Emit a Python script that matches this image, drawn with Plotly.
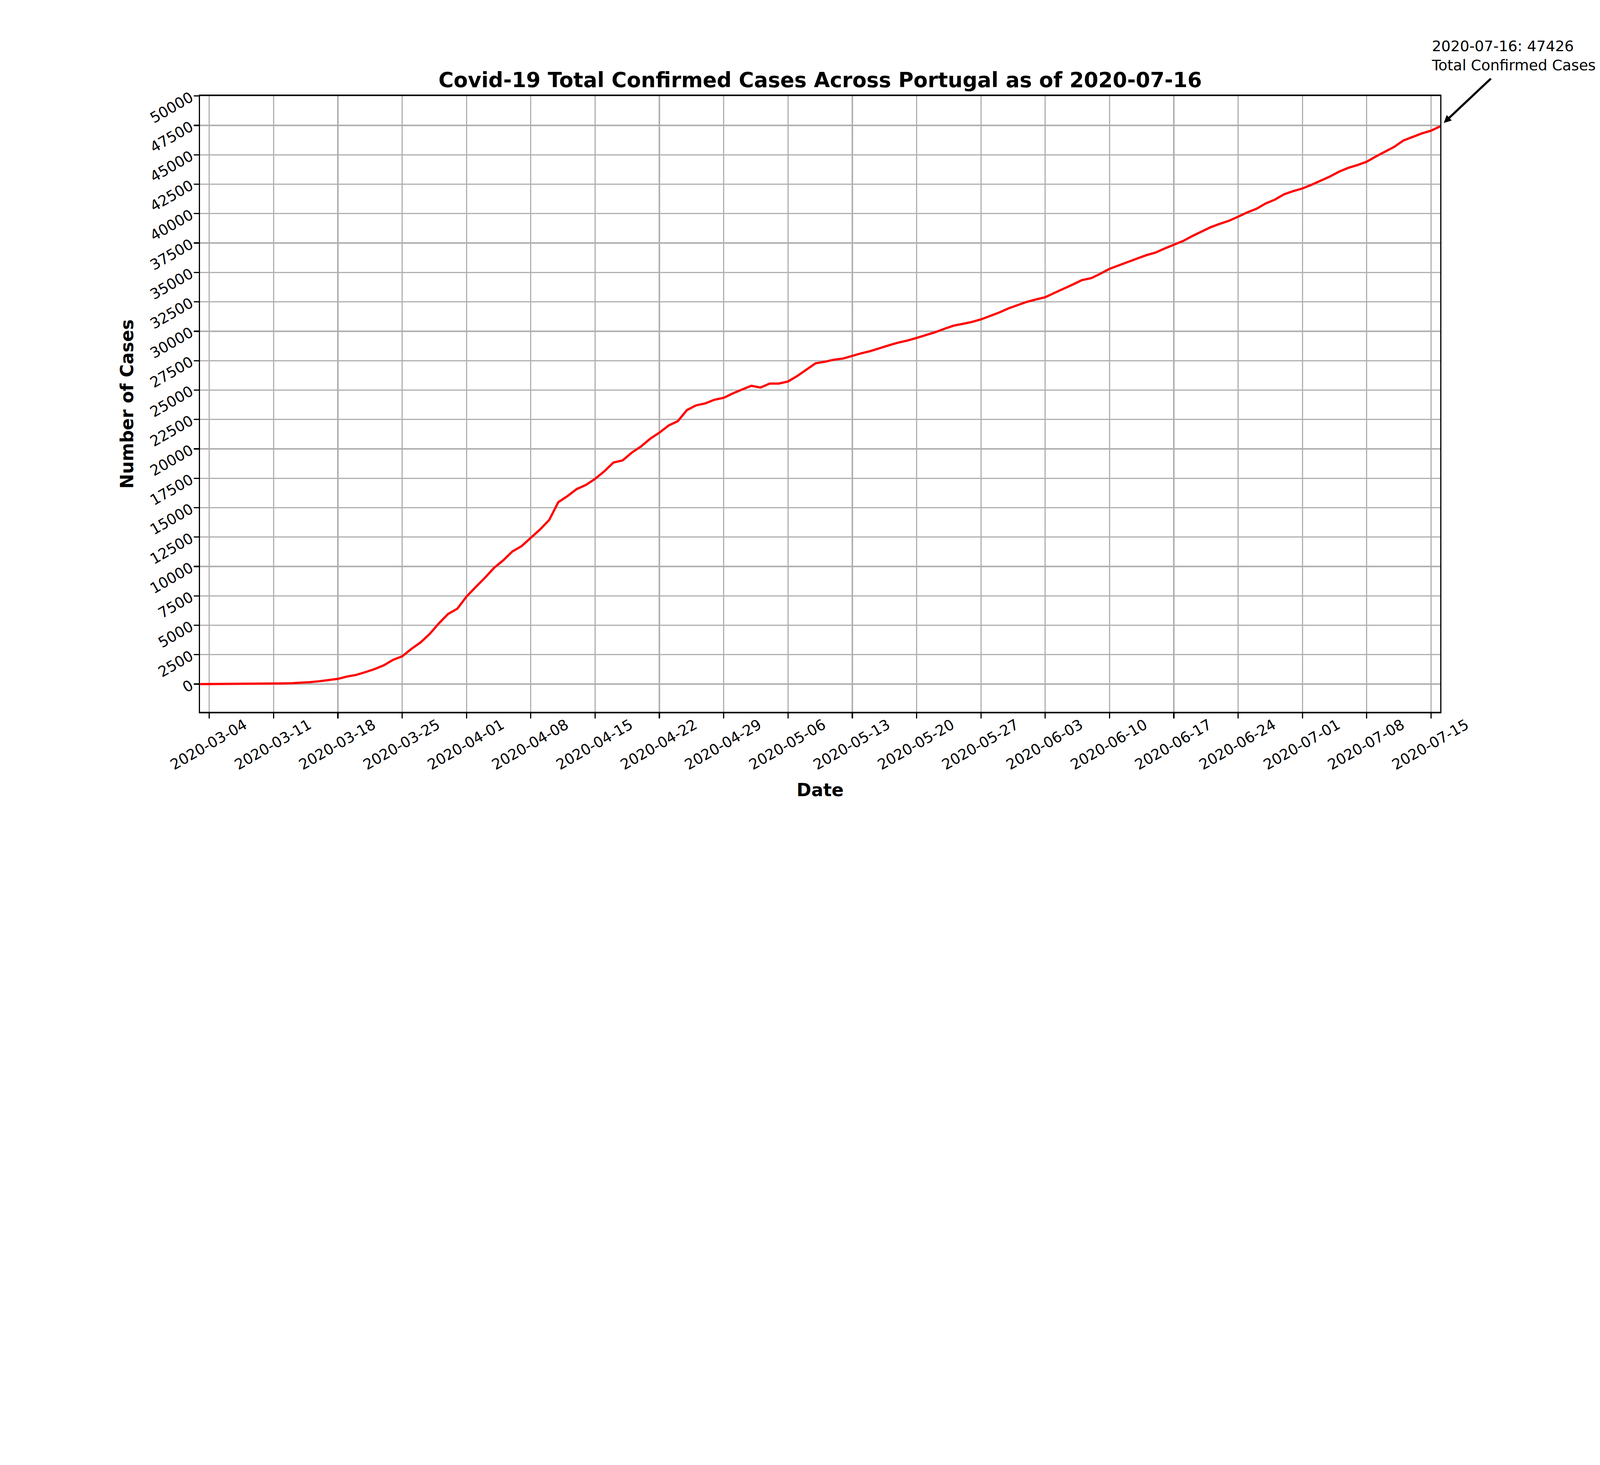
import plotly.graph_objects as go
import pandas as pd

# daily totals, Portugal
start_date = "2020-03-03"
end_date = "2020-07-16"
total_cases = [
    2, 4, 6, 9, 13, 21, 30, 39, 41, 59, 78, 112, 169, 245, 331, 448, 642, 785,
    1020, 1280, 1600, 2060, 2362, 2995, 3544, 4268, 5170, 5962, 6408, 7443,
    8251, 9034, 9886, 10524, 11278, 11730, 12442, 13141, 13956, 15472, 15987,
    16585, 16934, 17448, 18091, 18841, 19022, 19685, 20206, 20863, 21379,
    21982, 22353, 23300, 23700, 23870, 24180, 24340, 24720, 25020, 25365,
    25210, 25550, 25550, 25730, 26190, 26715, 27275, 27406, 27581, 27679,
    27913, 28132, 28319, 28583, 28810, 29036, 29209, 29432, 29660, 29912,
    30200, 30471, 30623, 30788, 31007, 31292, 31596, 31946, 32203, 32500,
    32700, 32895, 33261, 33592, 33969, 34351, 34510, 34885, 35306, 35600,
    35910, 36180, 36463, 36690, 37036, 37336, 37672, 38089, 38464, 38841,
    39133, 39392, 39737, 40104, 40415, 40866, 41189, 41646, 41912, 42141,
    42454, 42782, 43156, 43569, 43897, 44129, 44416, 44859, 45277, 45679,
    46221, 46512, 46818, 47051, 47426,
]
dates = pd.date_range(start_date, end_date, freq="D")
y_ticks = list(range(0, 50001, 2500))

W, H = 7500, 3750
FONT = "DejaVu Sans"
GRID = "#b0b0b0"
ML, MR, MT, MB = 938, 749, 450, 413
PLOT_H = H - MT - MB

fig = go.Figure()
fig.add_trace(go.Scatter(
    x=dates, y=total_cases, mode="lines",
    line=dict(color="red", width=10.4),
    showlegend=False,
))

last_label = dates[-1].strftime("%Y-%m-%d")

axis_common = dict(
    showline=True, linecolor="black", linewidth=5.6, mirror=True,
    ticks="outside", ticklen=24, tickwidth=5.6, tickcolor="black",
    showgrid=True, gridcolor=GRID, gridwidth=5.6,
    zeroline=False, automargin=False,
    tickfont=dict(family=FONT, size=69, color="black"),
    tickangle=-30,
)

fig.update_layout(
    width=W, height=H,
    paper_bgcolor="white", plot_bgcolor="white",
    margin=dict(l=ML, r=MR, t=MT, b=MB),
    title=dict(
        text=f"Covid-19 Total Confirmed Cases Across Portugal as of {last_label}",
        font=dict(family=FONT, size=97, color="black", weight="bold"),
        x=(ML + W - MR) / 2 / W, xanchor="center",
        y=1 - 409 / H, yanchor="bottom", yref="container",
    ),
    xaxis=dict(
        axis_common,
        range=[start_date, end_date],
        tick0="2020-03-04", dtick=7 * 86400000, tickformat="%Y-%m-%d",
        ticklabelshift=165, ticklabelstandoff=-35,
    ),
    yaxis=dict(
        axis_common,
        range=[-2369, 50000],
        tickmode="array", tickvals=y_ticks, ticktext=[str(v) for v in y_ticks],
        title=dict(text="Number of Cases", standoff=40,
                   font=dict(family=FONT, size=83, color="black", weight="bold")),
    ),
)

# x axis label, placed where the reference has it
fig.add_annotation(
    xref="paper", yref="paper", x=0.5, y=-(3703 - (H - MB)) / PLOT_H,
    text="Date", showarrow=False, xanchor="center", yanchor="middle",
    font=dict(family=FONT, size=83, color="black", weight="bold"),
)

# annotation text and arrow pointing at the latest value
fig.add_annotation(
    x=dates[-1], y=total_cases[-1],
    text=f"{last_label}: {total_cases[-1]}<br>Total Confirmed Cases",
    showarrow=False, xanchor="left", yanchor="bottom", align="left",
    xshift=-42, yshift=245,
    font=dict(family=FONT, size=69, color="black"),
)
fig.add_annotation(
    x=dates[-1], y=total_cases[-1], text="",
    showarrow=True, axref="pixel", ayref="pixel", ax=239, ay=-225,
    arrowhead=2, arrowsize=0.7, arrowwidth=10, arrowcolor="black", standoff=23,
)

# fit the fixed-size figure into whatever viewport the page is opened in
fit_js = """
var gd = document.getElementById('{plot_id}');
var wrap = gd.parentElement;
var s = Math.min(window.innerWidth / %d, window.innerHeight / %d);
document.body.style.margin = '0';
document.body.style.overflow = 'hidden';
wrap.style.position = 'absolute';
wrap.style.left = '0px';
wrap.style.top = '0px';
wrap.style.transformOrigin = '0 0';
wrap.style.transform = 'scale(' + s + ')';
""" % (W, H)

fig.write_html("out.html", post_script=fit_js, config={"displayModeBar": False})
